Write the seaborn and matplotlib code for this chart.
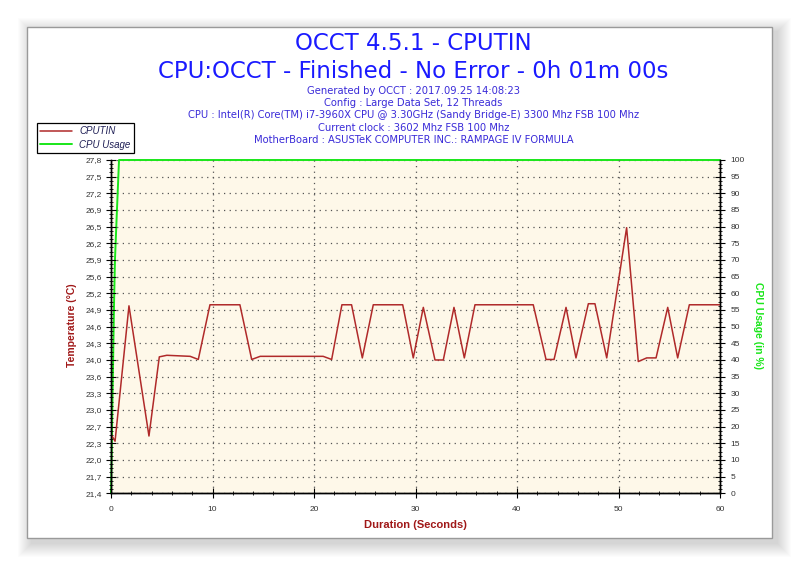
import matplotlib
matplotlib.use("Agg")
import matplotlib.pyplot as plt
import seaborn as sns
import numpy as np
import pandas as pd
from matplotlib.patches import Rectangle
from matplotlib.ticker import MultipleLocator, AutoMinorLocator

# Datos
cputin_time = [0.1, 0.4, 1.77, 3.74, 4.76, 5.5, 7.8, 8.6, 9.75, 12.7, 13.86, 14.7,
               20.9, 21.74, 22.75, 23.7, 24.76, 25.84, 28.74, 29.78, 30.77, 31.92,
               32.74, 33.79, 34.81, 35.86, 41.6, 42.86, 43.65, 44.83, 45.81, 47.03,
               47.68, 48.84, 50.8, 51.95, 52.78, 53.7, 54.85, 55.83, 56.98, 60.0]
cputin_temp = [22.5, 22.4, 25.0, 22.5, 24.02, 24.05, 24.03, 23.97, 25.02, 25.02, 23.97, 24.03,
               24.03, 23.97, 25.02, 25.02, 24.0, 25.02, 25.02, 24.0, 24.97, 23.96,
               23.96, 24.97, 24.0, 25.02, 25.02, 23.97, 23.97, 24.97, 24.0, 25.04,
               25.04, 24.0, 26.5, 23.93, 24.0, 24.0, 24.97, 24.0, 25.02, 25.02]

usage_time = [0.0, 0.07, 0.13, 0.3, 0.39, 0.56, 0.79, 60.0]
usage_pct = [0, 12, 25, 57, 70, 83, 100, 100]

temp_tick_labels = ["21,4", "21,7", "22,0", "22,3", "22,7", "23,0", "23,3", "23,6", "24,0",
                    "24,3", "24,6", "24,9", "25,2", "25,6", "25,9", "26,2", "26,5", "26,9",
                    "27,2", "27,5", "27,8"]
usage_ticks = list(range(0, 101, 5))
time_ticks = [0, 10, 20, 30, 40, 50, 60]

title_lines = ["OCCT 4.5.1 - CPUTIN", "CPU:OCCT - Finished - No Error - 0h 01m 00s"]
info_lines = ["Generated by OCCT : 2017.09.25 14:08:23",
              "Config : Large Data Set, 12 Threads",
              "CPU : Intel(R) Core(TM) i7-3960X CPU @ 3.30GHz (Sandy Bridge-E) 3300 Mhz FSB 100 Mhz",
              "Current clock : 3602 Mhz FSB 100 Mhz",
              "MotherBoard : ASUSTeK COMPUTER INC.: RAMPAGE IV FORMULA"]

RED = "#b02a2a"
GREEN = "#19e619"
BLUE = "#1a1aff"
INFO = "#3a2bd8"
LABEL_RED = "#a01818"
TICK = "#333333"
CREAM = "#fef8e9"


def main():
    sns.set_style("white")
    plt.rcParams['font.family'] = ['DejaVu Sans']

    temp_df = pd.DataFrame({'t': cputin_time, 'temp': cputin_temp})
    usage_df = pd.DataFrame({'t': usage_time, 'usage': usage_pct})

    fig = plt.figure(figsize=(8, 5.66), dpi=100)
    fig.patch.set_facecolor('white')

    # marco con sombra suave
    W, H = 800.0, 566.0
    x0, y0, x1, y1 = 27, 27, 772, 538
    for i in range(14, 0, -1):
        off = 5
        fig.patches.append(Rectangle(((x0 - i + off) / W, 1 - (y1 + i + off) / H),
                                     (x1 - x0 + 2 * i) / W, (y1 - y0 + 2 * i) / H,
                                     transform=fig.transFigure, facecolor='black',
                                     edgecolor='none', alpha=0.012, zorder=-10))
    fig.patches.append(Rectangle((x0 / W, 1 - y1 / H), (x1 - x0) / W, (y1 - y0) / H,
                                 transform=fig.transFigure, facecolor='white',
                                 edgecolor='#9a9a9a', linewidth=1.0, zorder=-5))

    ax = fig.add_axes([111 / W, 1 - 493.3 / H, 609 / W, 333.3 / H])
    ax2 = ax.twinx()

    sns.lineplot(data=usage_df, x='t', y='usage', ax=ax2, color=GREEN, linewidth=1.4,
                 label='CPU Usage', legend=False, clip_on=False)
    sns.lineplot(data=temp_df, x='t', y='temp', ax=ax, color=RED, linewidth=1.1,
                 label='CPUTIN', legend=False)
    # ax (temperatura) encima, fondo crema en ax2
    ax.set_zorder(ax2.get_zorder() + 1)
    ax.patch.set_visible(False)
    ax2.patch.set_visible(True)
    ax2.patch.set_facecolor(CREAM)

    ax.set_xlim(0, 60)
    ax.set_ylim(21.4, 27.8)
    ax2.set_ylim(0, 100)

    temp_ticks = np.linspace(21.4, 27.8, len(temp_tick_labels))
    ax.set_yticks(temp_ticks)
    ax.set_yticklabels(temp_tick_labels)
    ax.set_xticks(time_ticks)
    ax.set_xticklabels([str(t) for t in time_ticks])
    ax.xaxis.set_minor_locator(MultipleLocator(2))
    ax.yaxis.set_minor_locator(AutoMinorLocator(4))
    ax2.set_yticks(usage_ticks)
    ax2.set_yticklabels([str(u) for u in usage_ticks])
    ax2.yaxis.set_minor_locator(AutoMinorLocator(4))

    for a in (ax, ax2):
        a.tick_params(which='major', direction='inout', length=7, width=0.8,
                      color='black', labelcolor=TICK, labelsize=6)
        a.tick_params(which='minor', direction='inout', length=3.5, width=0.6, color='black')
        for lab in a.get_xticklabels() + a.get_yticklabels():
            lab.set_fontfamily(['Liberation Sans', 'DejaVu Sans'])
        a.set_xlabel('')
        a.set_ylabel('')
        a.spines['top'].set_visible(False)
        for side in ('left', 'right', 'bottom'):
            a.spines[side].set_color('black')
            a.spines[side].set_linewidth(1.0)
    ax.tick_params(axis='y', which='both', left=True, right=False, pad=3)
    ax.tick_params(axis='x', which='both', bottom=True, top=False, pad=6)
    ax2.tick_params(axis='y', which='both', right=True, left=False, pad=4)

    grid_style = dict(color='#555555', linestyle=(0, (1, 3.5)), linewidth=0.9)
    ax2.grid(True, which='major', axis='y', **grid_style)
    ax2.set_axisbelow(True)
    ax.grid(True, which='major', axis='x', **grid_style)
    ax.set_axisbelow(True)

    # titulos
    cx = 0.517
    fig.text(cx, 1 - 44 / H, title_lines[0], ha='center', va='center', color=BLUE, fontsize=16.5)
    fig.text(cx, 1 - 71 / H, title_lines[1], ha='center', va='center', color=BLUE, fontsize=16.5)
    for i, line in enumerate(info_lines):
        fig.text(cx, 1 - (91 + 12.2 * i) / H, line, ha='center', va='center',
                 color=INFO, fontsize=7.2)

    fig.text(415 / W, 1 - 525 / H, 'Duration (Seconds)', ha='center', va='center',
             color=LABEL_RED, fontsize=8, fontweight='bold',
             family=['Liberation Sans Narrow', 'Liberation Sans', 'DejaVu Sans'])
    fig.text(72 / W, 1 - 325 / H, 'Temperature (°C)', ha='center', va='center', rotation=90,
             color=LABEL_RED, fontsize=7.5, fontweight='bold',
             family=['Liberation Sans', 'DejaVu Sans'])
    fig.text(758 / W, 1 - 325 / H, 'CPU Usage (in %)', ha='center', va='center', rotation=270,
             color=GREEN, fontsize=7.5, fontweight='bold',
             family=['Liberation Sans', 'DejaVu Sans'])

    h1, l1 = ax.get_legend_handles_labels()
    h2, l2 = ax2.get_legend_handles_labels()
    leg = fig.legend(h1 + h2, l1 + l2, loc='upper left',
                     bbox_to_anchor=(37 / W, 1 - 123 / H), frameon=True, fancybox=False,
                     edgecolor='black', framealpha=1.0, borderpad=0.35, labelspacing=0.35,
                     handlelength=3.2, handletextpad=0.8, borderaxespad=0,
                     prop={'family': 'Liberation Sans', 'style': 'italic', 'size': 7})
    leg.get_frame().set_linewidth(0.9)
    for txt in leg.get_texts():
        txt.set_color('#1f1f55')
    leg.set_zorder(20)

    plt.savefig('out.png', dpi=100)


if __name__ == "__main__":
    main()
